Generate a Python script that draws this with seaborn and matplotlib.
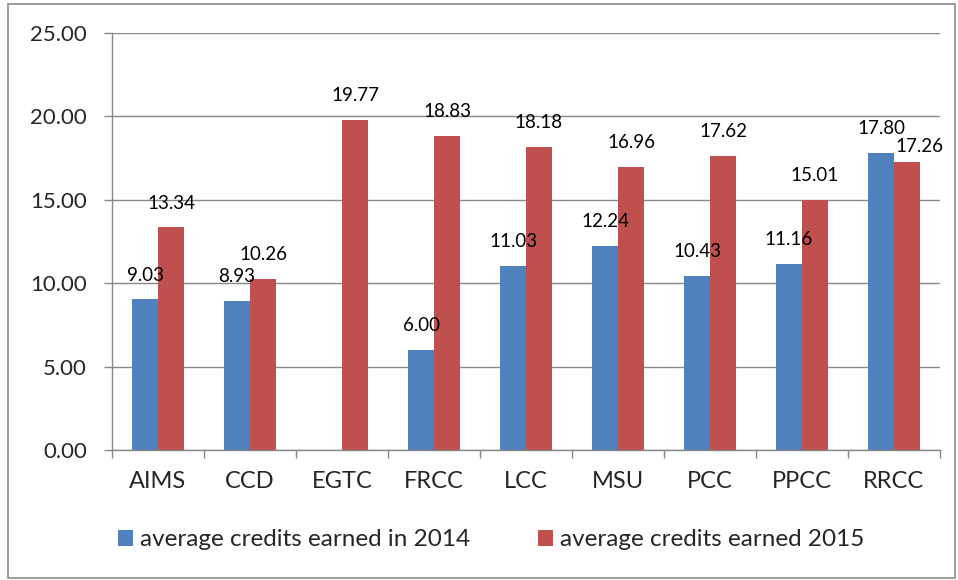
import numpy as np
import pandas as pd
import seaborn as sns
import matplotlib.pyplot as plt
from matplotlib.patches import Rectangle, Patch

# data
colleges = ["AIMS", "CCD", "EGTC", "FRCC", "LCC", "MSU", "PCC", "PPCC", "RRCC"]
credits_2014 = [9.03, 8.93, np.nan, 6.00, 11.03, 12.24, 10.43, 11.16, 17.80]
credits_2015 = [13.34, 10.26, 19.77, 18.83, 18.18, 16.96, 17.62, 15.01, 17.26]
series = ["average credits earned in 2014", "average credits earned 2015"]
yticks = [0, 5, 10, 15, 20, 25]

df = pd.DataFrame({
    "college": colleges * 2,
    "credits": credits_2014 + credits_2015,
    "series": [series[0]] * len(colleges) + [series[1]] * len(colleges),
})

sns.set_theme(style="white")
plt.rcParams["font.family"] = ["Lato", "DejaVu Sans"]

colors = ["#4F81BD", "#C0504D"]
grey = "#878787"

fig = plt.figure(figsize=(9.58, 5.8), dpi=100)
ax = fig.add_axes([112 / 958, 1 - 450 / 580, (940 - 112) / 958, (450 - 33) / 580])

sns.barplot(data=df, x="college", y="credits", hue="series", palette=colors,
            width=0.565, linewidth=0, saturation=1, ax=ax, legend=False)

# value labels above bars; the two RRCC labels are pushed apart like in the original
nudge = {(0, 8): (-17, 15), (1, 8): (9, 11)}
for si, cont in enumerate(ax.containers):
    for ci, bar in enumerate(cont):
        h = bar.get_height()
        if np.isnan(h):
            continue
        dx, dy = nudge.get((si, ci), (0, 17.5))
        ax.annotate(f"{h:.2f}", (bar.get_x() + bar.get_width() / 2, h),
                    xytext=(dx, dy), textcoords="offset points",
                    ha="center", va="center", fontsize=13.5, color="black")

ax.set_ylim(0, 25)
ax.set_xlim(-0.5, len(colleges) - 0.5)
ax.set_yticks(yticks)
ax.set_yticklabels([f"{v:.2f}" for v in yticks], fontsize=16)
ax.yaxis.grid(True, color=grey, linewidth=1)
ax.set_axisbelow(True)
ax.set_xlabel("")
ax.set_ylabel("")

ax.tick_params(axis="y", left=True, length=6, width=1, color=grey, pad=12)
ax.tick_params(axis="x", which="major", length=0, pad=15, labelsize=17)
ax.set_xticks(np.arange(-0.5, len(colleges)), minor=True)
ax.tick_params(axis="x", which="minor", bottom=True, length=6, width=1, color=grey)

for s in ["top", "right"]:
    ax.spines[s].set_visible(False)
for s in ["left", "bottom"]:
    ax.spines[s].set_color(grey)
    ax.spines[s].set_linewidth(1)

handles = [Patch(facecolor=c, edgecolor="none") for c in colors]
fig.legend(handles, series, loc="center", bbox_to_anchor=(0.513, 1 - 540 / 580),
           ncol=2, frameon=False, fontsize=17.5, handlelength=0.6, handleheight=0.6,
           handletextpad=0.3, columnspacing=2.8)

# outer chart border
fig.patches.append(Rectangle((8 / 958, 2 / 580), 947 / 958, 574 / 580,
                             transform=fig.transFigure, fill=False,
                             edgecolor="#8c8c8c", linewidth=1.2))

fig.savefig("out.png", dpi=100)
